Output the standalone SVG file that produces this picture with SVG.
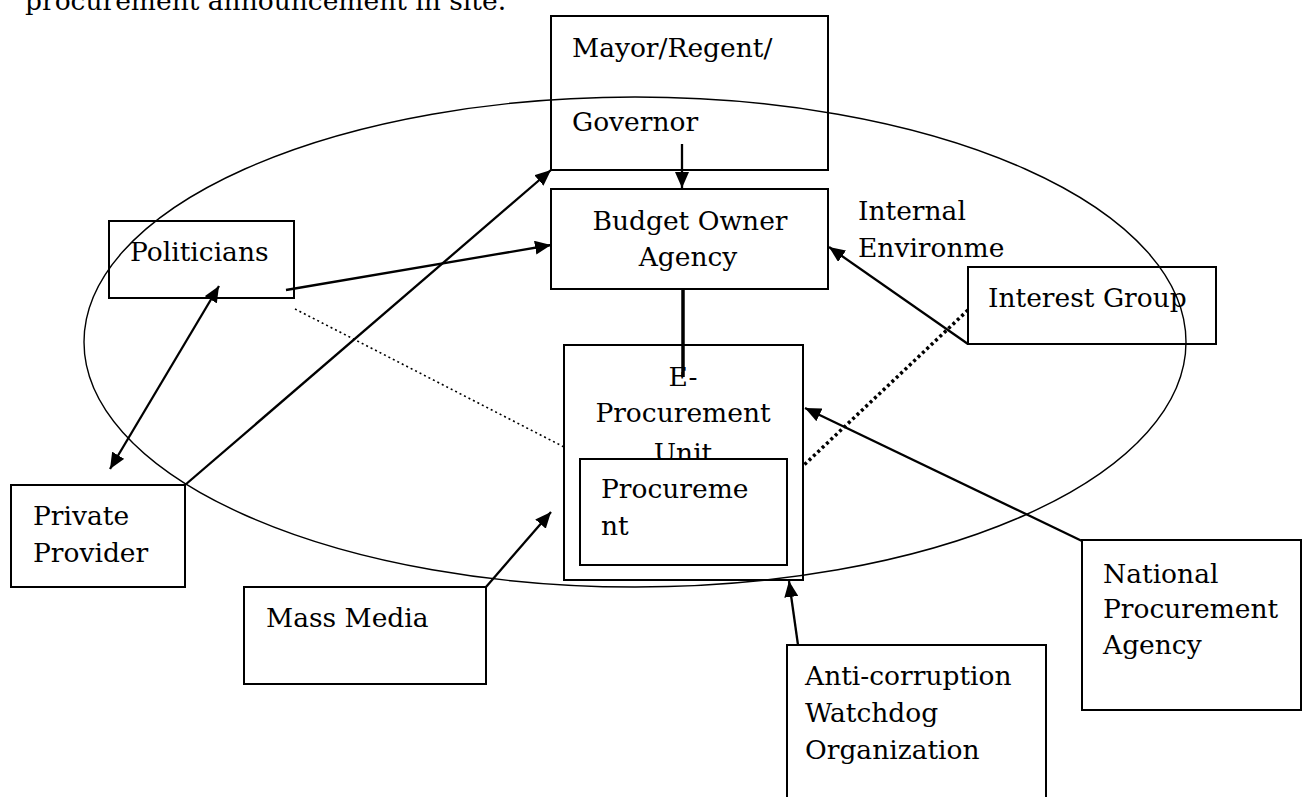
<svg xmlns="http://www.w3.org/2000/svg" width="1302" height="797" viewBox="0 0 1302 797">
<style>
text{font-family:"DejaVu Serif","Liberation Serif",serif;font-size:26.5px;fill:#000}
.box{fill:none;stroke:#000;stroke-width:2}
.wbox{fill:#fff;stroke:#000;stroke-width:2}
.ln{stroke:#000;stroke-width:2.3;fill:none}
.mid{text-anchor:middle}
</style>
<defs>
<marker id="ah" viewBox="0 0 16 14" refX="16" refY="7" markerWidth="16" markerHeight="14" markerUnits="userSpaceOnUse" orient="auto-start-reverse">
<path d="M0,0 L16,7 L0,14 z" fill="#000"/>
</marker>
</defs>
<rect width="1302" height="797" fill="#fff"/>
<text x="25" y="10">procurement announcement in site.</text>
<ellipse cx="635" cy="342" rx="551" ry="245" fill="none" stroke="#000" stroke-width="1.4"/>

<g id="mayor"><rect class="box" x="551" y="16" width="277" height="154"/><text x="572" y="57">Mayor/Regent/</text><text x="572" y="131">Governor</text></g>
<g id="budget"><rect class="box" x="551" y="189" width="277" height="100"/><text class="mid" x="690" y="230">Budget Owner</text><text class="mid" x="688" y="266">Agency</text></g>
<g id="internal-label"><text x="858" y="220">Internal</text><text x="858" y="257">Environme</text></g>
<g id="interest"><rect class="box" x="968" y="267" width="248" height="77"/><text x="988" y="307">Interest Group</text></g>
<g id="politicians"><rect class="box" x="109" y="221" width="185" height="77"/><text x="130" y="261">Politicians</text></g>
<g id="private"><rect class="box" x="11" y="485" width="174" height="102"/><text x="33" y="525">Private</text><text x="33" y="562">Provider</text></g>
<g id="media"><rect class="box" x="244" y="587" width="242" height="97"/><text x="266" y="627">Mass Media</text></g>
<g id="eproc"><rect class="box" x="564" y="345" width="239" height="235"/><text class="mid" x="683" y="386">E-</text><text class="mid" x="683" y="422">Procurement</text><text class="mid" x="683" y="462">Unit</text>
<g id="proc"><rect class="wbox" x="580" y="459" width="207" height="106"/><text x="601" y="498">Procureme</text><text x="601" y="535">nt</text></g></g>
<g id="national"><rect class="box" x="1082" y="540" width="219" height="170"/><text x="1103" y="583">National</text><text x="1103" y="618">Procurement</text><text x="1103" y="654">Agency</text></g>
<g id="anticorruption"><rect class="box" x="787" y="645" width="259" height="160"/><text x="805" y="685">Anti-corruption</text><text x="805" y="722">Watchdog</text><text x="805" y="759">Organization</text></g>

<g id="connectors">
<line class="ln" x1="682" y1="144" x2="682" y2="188" marker-end="url(#ah)"/>
<line class="ln" x1="185" y1="485" x2="551" y2="170" marker-end="url(#ah)"/>
<line class="ln" x1="286" y1="290" x2="551" y2="245" marker-end="url(#ah)"/>
<line class="ln" x1="219" y1="286" x2="110" y2="469" marker-start="url(#ah)" marker-end="url(#ah)"/>
<line class="ln" x1="968" y1="344" x2="829" y2="247" marker-end="url(#ah)"/>
<line class="ln" x1="1082" y1="541" x2="805" y2="408" marker-end="url(#ah)"/>
<line class="ln" x1="798" y1="645" x2="789" y2="581" marker-end="url(#ah)"/>
<line class="ln" x1="486" y1="587" x2="551" y2="512" marker-end="url(#ah)"/>
<line x1="683" y1="289" x2="683" y2="377" stroke="#000" stroke-width="3.5"/>
<line x1="295" y1="309" x2="564" y2="447" stroke="#000" stroke-width="1.6" stroke-dasharray="2 3"/>
<line x1="968" y1="310" x2="803" y2="466" stroke="#000" stroke-width="3.5" stroke-dasharray="3 3"/>
</g>
</svg>
